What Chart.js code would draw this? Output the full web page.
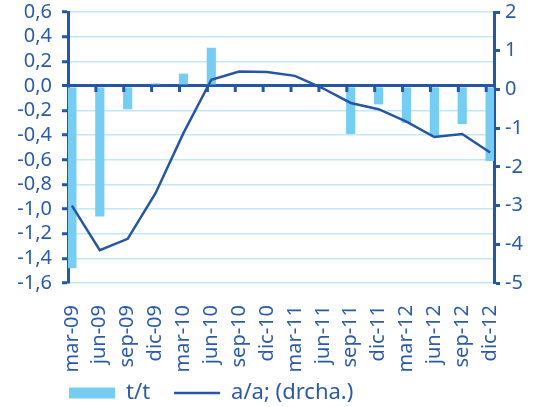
<!DOCTYPE html>
<html>
<head>
<meta charset="utf-8">
<script src="https://cdn.jsdelivr.net/npm/chart.js@4.4.1/dist/chart.umd.min.js"></script>
<style>
  html, body { margin: 0; padding: 0; background: #fff; }
  #wrap { width: 540px; height: 407px; }
</style>
</head>
<body>
<div id="wrap"><canvas id="chart"></canvas></div>
<script>
// datos trimestrales
const categories = ["mar-09", "jun-09", "sep-09", "dic-09", "mar-10", "jun-10", "sep-10", "dic-10",
                    "mar-11", "jun-11", "sep-11", "dic-11", "mar-12", "jun-12", "sep-12", "dic-12"];
const ttValues = [-1.48, -1.06, -0.19, 0.02, 0.10, 0.31, 0, 0, 0, 0, -0.39, -0.15, -0.30, -0.41, -0.31, -0.61];
const aaValues = [-3.0, -4.15, -3.86, -2.68, -1.13, 0.25, 0.46, 0.45, 0.35, 0.03, -0.35, -0.51, -0.83, -1.23, -1.15, -1.63];
const leftTicks = [-1.6, -1.4, -1.2, -1.0, -0.8, -0.6, -0.4, -0.2, 0, 0.2, 0.4, 0.6];
const rightTicks = [-5, -4, -3, -2, -1, 0, 1, 2];

const DARK = '#2456a4';
const TEXT = '#2b5ba8';
const GRID = '#c2e7f8';
const BAR = '#76cdf2';

Chart.defaults.font.family = "'Noto Sans', sans-serif";
Chart.defaults.color = TEXT;

function fmt(v) {
    if (Math.abs(v) < 1e-9) return '0,0';
    return v.toFixed(1).replace('.', ',');
}

function isZero(c) {
    return c.tick && Math.abs(c.tick.value) < 1e-9;
}

// ancho fijo de los ejes verticales y margen superior
function fitY(width) {
    return s => {
        s.width = width;
        s.paddingTop = 12;
        s.paddingBottom = 0;
    };
}

// marcas pequeñas sobre la línea del cero
const zeroTicks = {
    id: 'zeroTicks',
    afterDatasetsDraw(chart) {
        const x = chart.scales.x;
        const y0 = chart.scales.y.getPixelForValue(0);
        const ctx = chart.ctx;
        ctx.save();
        ctx.strokeStyle = DARK;
        ctx.lineWidth = 3;
        ctx.beginPath();
        for (let i = 1; i < categories.length; i++) {
            const px = x.getPixelForValue(i - 0.14);
            ctx.moveTo(px, y0);
            ctx.lineTo(px, y0 + 6);
        }
        ctx.stroke();
        ctx.restore();
    }
};

// mover la leyenda bajo el eje izquierdo
const legendPlace = {
    id: 'legendPlace',
    afterLayout(chart) {
        const lg = chart.legend;
        const dx = 45, dy = -25;
        lg.left += dx; lg.right += dx;
        lg.top += dy; lg.bottom += dy;
    }
};

new Chart(document.getElementById('chart'), {
    type: 'bar',
    data: {
        datasets: [{
            type: 'bar',
            label: 't/t',
            data: ttValues.map((v, i) => ({ x: i, y: v })),
            yAxisID: 'y',
            backgroundColor: BAR,
            borderWidth: 0,
            barPercentage: 1,
            categoryPercentage: 0.33,
            pointStyle: 'rect',
            order: 2
        }, {
            type: 'line',
            label: 'a/a; (drcha.)',
            data: aaValues.map((v, i) => ({ x: i, y: v })),
            yAxisID: 'y1',
            borderColor: DARK,
            backgroundColor: DARK,
            borderWidth: 2.5,
            pointRadius: 0,
            tension: 0,
            pointStyle: 'line',
            order: 1
        }]
    },
    options: {
        responsive: true,
        maintainAspectRatio: false,
        animation: false,
        layout: { padding: { top: 0, bottom: -32 } },
        scales: {
            x: {
                type: 'linear',
                offset: false,
                min: -0.14,
                max: categories.length - 1 + 0.14,
                afterBuildTicks: s => { s.ticks = categories.map((c, i) => ({ value: i })); },
                afterFit: s => { s.height = 100; },
                grid: { display: false },
                border: { display: false },
                ticks: {
                    autoSkip: false,
                    minRotation: 90,
                    maxRotation: 90,
                    padding: 14,
                    font: { size: 20 },
                    callback: v => categories[Math.round(v)]
                }
            },
            y: {
                position: 'left',
                min: -1.6,
                max: 0.6,
                afterBuildTicks: s => { s.ticks = leftTicks.map(v => ({ value: v })); },
                afterFit: fitY(68),
                border: { color: DARK, width: 3 },
                grid: {
                    color: c => isZero(c) ? DARK : GRID,
                    lineWidth: c => isZero(c) ? 3 : 1.5,
                    tickColor: DARK,
                    tickWidth: 3,
                    tickLength: 6
                },
                ticks: { autoSkip: false, padding: 10, font: { size: 20 }, callback: v => fmt(v) }
            },
            y1: {
                position: 'right',
                min: -5,
                max: 2,
                afterBuildTicks: s => { s.ticks = rightTicks.map(v => ({ value: v })); },
                afterFit: fitY(46),
                border: { color: DARK, width: 3 },
                grid: {
                    drawOnChartArea: false,
                    tickColor: DARK,
                    tickWidth: 3,
                    tickLength: 6
                },
                ticks: { autoSkip: false, padding: 5, font: { size: 20 }, callback: v => String(v) }
            }
        },
        plugins: {
            legend: {
                position: 'bottom',
                align: 'start',
                labels: {
                    usePointStyle: true,
                    pointStyleWidth: 46,
                    boxHeight: 11,
                    padding: 24,
                    color: TEXT,
                    font: { size: 22 },
                    sort: (a, b) => a.datasetIndex - b.datasetIndex
                }
            },
            tooltip: { enabled: true }
        }
    },
    plugins: [zeroTicks, legendPlace]
});
</script>
</body>
</html>
